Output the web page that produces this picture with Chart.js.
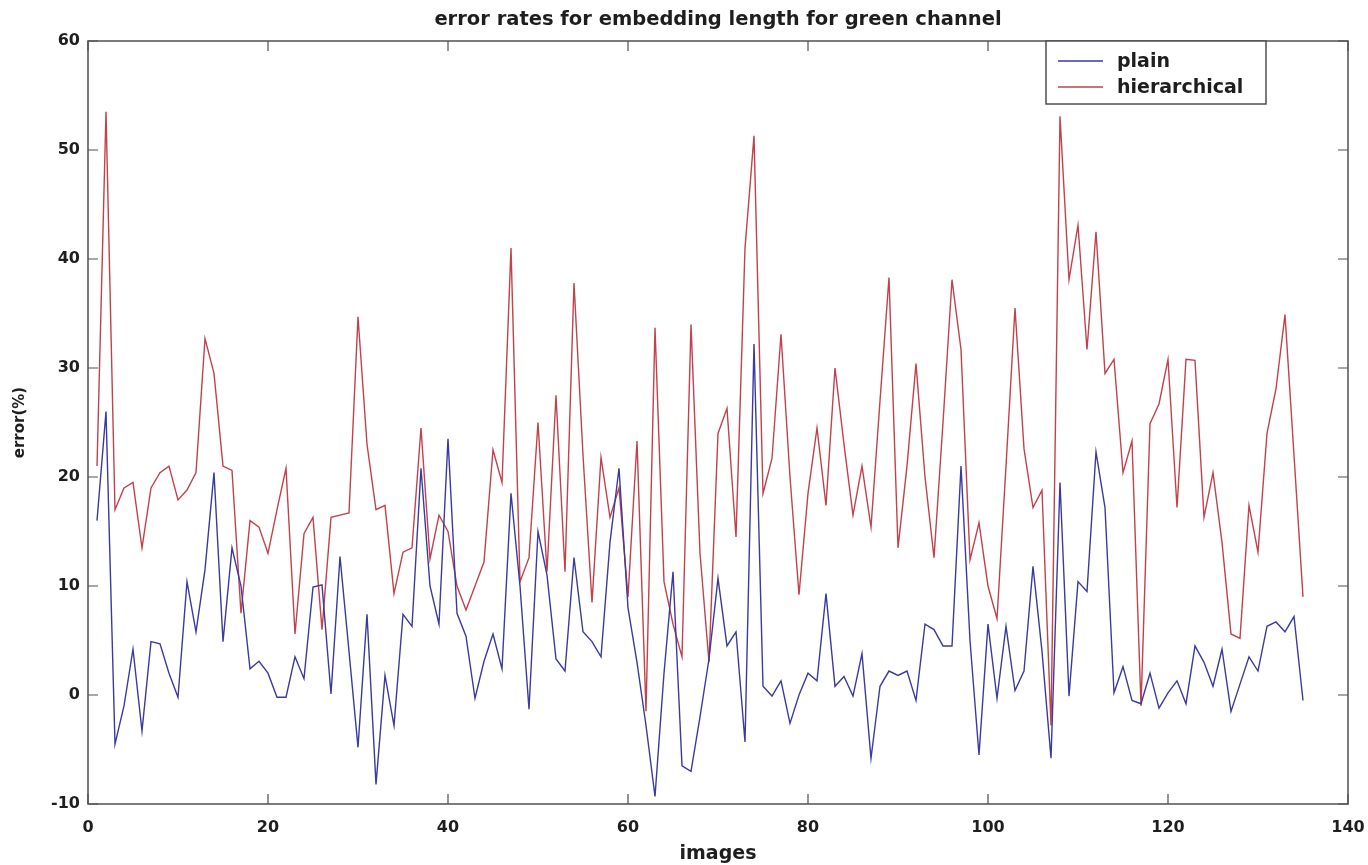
<!DOCTYPE html>
<html lang="en">
<head>
    <meta charset="UTF-8">
    <title>error rates</title>
    <script src="https://cdn.jsdelivr.net/npm/chart.js"></script>
    <style>
        body {
            margin: 0;
            background: #fff;
        }
        canvas {
            display: block;
        }
    </style>
</head>
<body>
    <canvas id="hataGrafigi" width="1368" height="865"></canvas>

    <script>
        // values, image 1..135
        var plain = [
            16, 26, -4.5, -1, 4.2, -3.3, 4.9, 4.7, 2, -0.2,
            10.4, 5.8, 11.5, 20.4, 4.9, 13.5, 10, 2.4, 3.1, 2,
            -0.2, -0.2, 3.5, 1.5, 9.9, 10.1, 0.1, 12.7, 4, -4.8,
            7.4, -8.2, 1.8, -2.8, 7.4, 6.3, 20.8, 10, 6.5, 23.5,
            7.5, 5.4, -0.3, 3.1, 5.6, 2.4, 18.5, 10, -1.3, 15,
            11, 3.3, 2.2, 12.6, 5.8, 4.9, 3.5, 14, 20.8, 8,
            3, -2.8, -9.3, 2, 11.3, -6.5, -7, -2, 3.3, 10.7,
            4.5, 5.8, -4.3, 32.2, 0.8, -0.1, 1.3, -2.6, 0, 2,
            1.3, 9.3, 0.8, 1.7, -0.1, 3.8, -5.8, 0.8, 2.2, 1.8,
            2.2, -0.5, 6.5, 6, 4.5, 4.5, 21, 5, -5.5, 6.5,
            -0.3, 6.3, 0.4, 2.2, 11.8, 4, -5.8, 19.5, -0.1, 10.4,
            9.5, 22.3, 17.2, 0.2, 2.6, -0.5, -0.8, 2, -1.2, 0.2,
            1.3, -0.8, 4.5, 3, 0.8, 4.2, -1.5, 1, 3.5, 2.2,
            6.3, 6.7, 5.8, 7.2, -0.5
        ];
        var hierarchical = [
            21, 53.5, 17, 19, 19.5, 13.5, 19, 20.4, 21, 17.9,
            18.8, 20.4, 32.7, 29.5, 21, 20.6, 7.5, 16, 15.4, 13,
            17, 20.8, 5.6, 14.8, 16.3, 6, 16.3, 16.5, 16.7, 34.7,
            23, 17, 17.4, 9.3, 13.1, 13.5, 24.5, 12.5, 16.5, 15,
            10, 7.8, 10, 12.2, 22.5, 19.5, 41, 10.4, 12.6, 25,
            11.3, 27.5, 11.3, 37.8, 22, 8.5, 21.8, 16.3, 19, 9,
            23.3, -1.5, 33.7, 10.4, 6.5, 3.5, 34, 13, 3, 24,
            26.3, 14.5, 41, 51.3, 18.5, 21.7, 33.1, 20, 9.2, 18.5,
            24.5, 17.4, 30, 23, 16.5, 21, 15.4, 27, 38.3, 13.5,
            21, 30.4, 20, 12.6, 25, 38.1, 31.7, 12.4, 15.8, 10,
            7, 21, 35.5, 22.6, 17.2, 18.8, -2.8, 53.1, 38.1, 43.1,
            31.7, 42.5, 29.5, 30.8, 20.4, 23.3, -1, 24.9, 26.7, 30.8,
            17.2, 30.8, 30.7, 16.3, 20.4, 14, 5.6, 5.2, 17.4, 13.1,
            24, 28.1, 34.9, 22, 9
        ];
        var xTicks = [0, 20, 40, 60, 80, 100, 120, 140];
        var yTicks = [-10, 0, 10, 20, 30, 40, 50, 60];

        var yazi = 'DejaVu Sans';

        function noktalar(seri) {
            return seri.map(function (v, i) {
                return { x: i + 1, y: v };
            });
        }

        // matlab style box: frame, inward ticks on all four sides, legend top right
        var kutuEklentisi = {
            id: 'kutu',
            afterDatasetsDraw: function (chart) {
                var ctx = chart.ctx;
                var a = chart.chartArea;
                var xs = chart.scales.x;
                var ys = chart.scales.y;
                ctx.save();
                ctx.strokeStyle = '#505050';
                ctx.lineWidth = 1.5;
                ctx.strokeRect(a.left, a.top, a.right - a.left, a.bottom - a.top);

                ctx.beginPath();
                xTicks.forEach(function (t) {
                    var px = xs.getPixelForValue(t);
                    ctx.moveTo(px, a.bottom);
                    ctx.lineTo(px, a.bottom - 10);
                    ctx.moveTo(px, a.top);
                    ctx.lineTo(px, a.top + 10);
                });
                yTicks.forEach(function (t) {
                    var py = ys.getPixelForValue(t);
                    ctx.moveTo(a.left, py);
                    ctx.lineTo(a.left + 10, py);
                    ctx.moveTo(a.right, py);
                    ctx.lineTo(a.right - 10, py);
                });
                ctx.lineWidth = 1.2;
                ctx.stroke();

                // legend
                var bx = a.right - 302, by = a.top, bw = 220, bh = 63;
                ctx.fillStyle = '#fff';
                ctx.fillRect(bx, by, bw, bh);
                ctx.strokeStyle = '#505050';
                ctx.lineWidth = 1.5;
                ctx.strokeRect(bx, by, bw, bh);
                ctx.font = 'bold 19px "' + yazi + '"';
                ctx.textBaseline = 'middle';
                ctx.textAlign = 'left';
                chart.data.datasets.forEach(function (ds, i) {
                    var ly = by + 20 + i * 26;
                    ctx.beginPath();
                    ctx.strokeStyle = ds.borderColor;
                    ctx.lineWidth = 1.4;
                    ctx.moveTo(bx + 12, ly);
                    ctx.lineTo(bx + 57, ly);
                    ctx.stroke();
                    ctx.fillStyle = '#1e1e1e';
                    ctx.fillText(ds.label, bx + 71, ly + 1);
                });
                ctx.restore();
            }
        };

        var ctx = document.getElementById('hataGrafigi').getContext('2d');
        var hataGrafigi = new Chart(ctx, {
            type: 'line',
            data: {
                datasets: [{
                    label: 'plain',
                    data: noktalar(plain),
                    borderColor: '#3a3aa0',
                    borderWidth: 1.4,
                    pointRadius: 0,
                    tension: 0,
                    fill: false
                }, {
                    label: 'hierarchical',
                    data: noktalar(hierarchical),
                    borderColor: '#c2414c',
                    borderWidth: 1.4,
                    pointRadius: 0,
                    tension: 0,
                    fill: false
                }]
            },
            options: {
                responsive: false,
                animation: false,
                layout: {
                    padding: { left: 0, right: 20, top: 0, bottom: 0 }
                },
                plugins: {
                    legend: { display: false },
                    tooltip: { enabled: false },
                    title: {
                        display: true,
                        fullSize: false,
                        text: 'error rates for embedding length for green channel',
                        color: '#1e1e1e',
                        font: { family: yazi, size: 19.5, weight: 'bold', lineHeight: 1.2 },
                        padding: { top: 8, bottom: 9.6 }
                    }
                },
                scales: {
                    x: {
                        type: 'linear',
                        min: 0,
                        max: 140,
                        afterFit: function (s) {
                            s.height = 61;
                            s.paddingLeft = 0;
                            s.paddingRight = 0;
                        },
                        afterBuildTicks: function (s) {
                            s.ticks = xTicks.map(function (v) { return { value: v }; });
                        },
                        grid: { display: false, drawTicks: false },
                        border: { display: false },
                        ticks: {
                            padding: 14,
                            maxRotation: 0,
                            color: '#1e1e1e',
                            font: { family: yazi, size: 16, weight: 'bold' }
                        },
                        title: {
                            display: true,
                            text: 'images',
                            color: '#1e1e1e',
                            font: { family: yazi, size: 19, weight: 'bold', lineHeight: 1.2 },
                            padding: { top: 2, bottom: 0 }
                        }
                    },
                    y: {
                        min: -10,
                        max: 60,
                        afterFit: function (s) {
                            s.width = 88;
                            s.paddingTop = 0;
                            s.paddingBottom = 0;
                        },
                        afterBuildTicks: function (s) {
                            s.ticks = yTicks.map(function (v) { return { value: v }; });
                        },
                        grid: { display: false, drawTicks: false },
                        border: { display: false },
                        ticks: {
                            padding: 8,
                            color: '#1e1e1e',
                            font: { family: yazi, size: 16, weight: 'bold' }
                        },
                        title: {
                            display: true,
                            text: 'error(%)',
                            color: '#1e1e1e',
                            font: { family: yazi, size: 15, weight: 'bold', lineHeight: 1.2 },
                            padding: { top: 11, bottom: 0 }
                        }
                    }
                }
            },
            plugins: [kutuEklentisi]
        });
    </script>
</body>
</html>
